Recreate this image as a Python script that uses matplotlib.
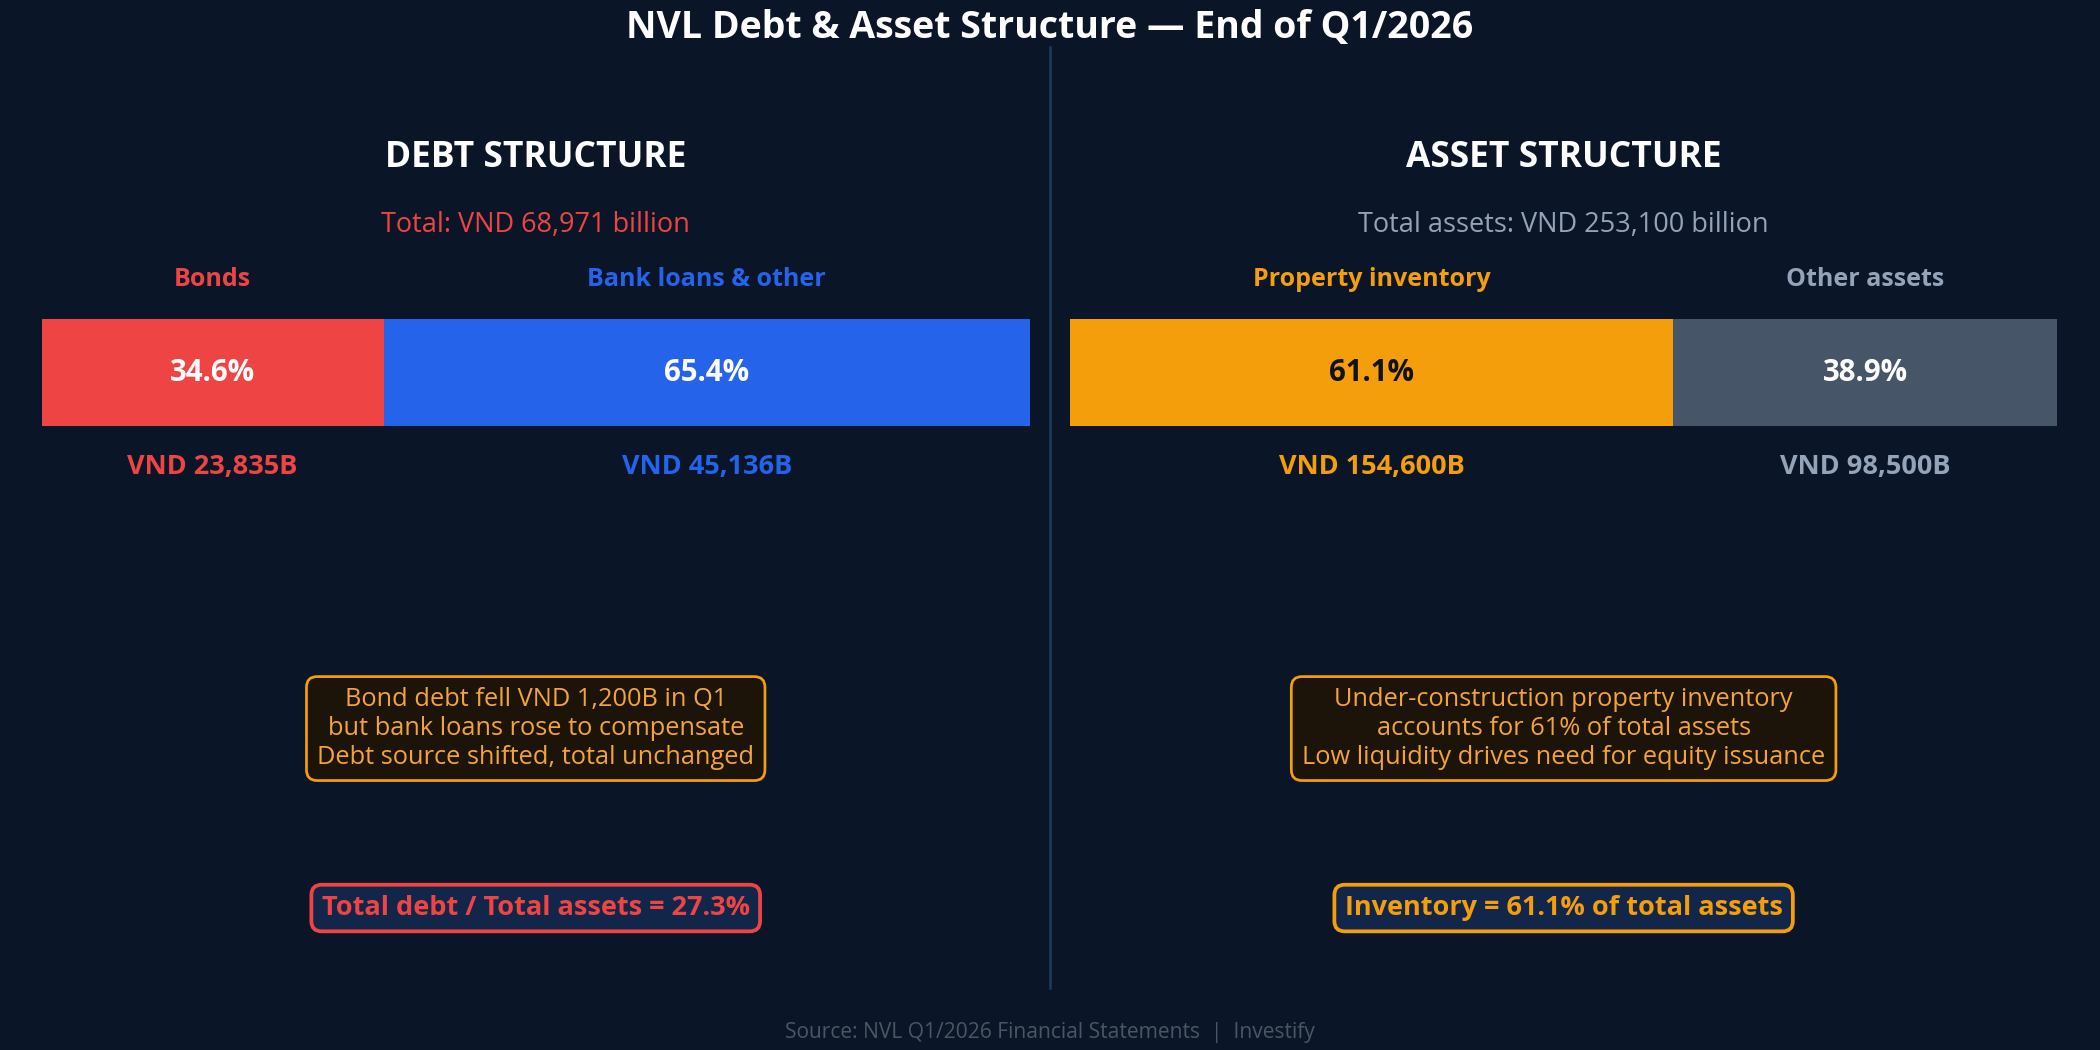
import matplotlib.pyplot as plt
from matplotlib.lines import Line2D

plt.rcParams['font.family'] = ['Open Sans', 'Noto Sans', 'DejaVu Sans']

# --- data ---
debt_labels = ['Bonds', 'Bank loans & other']
debt_pct = [34.6, 65.4]
debt_values = ['VND 23,835B', 'VND 45,136B']
debt_colors = ['#ef4444', '#2563eb']
debt_pct_colors = ['white', 'white']
debt_total = 'Total: VND 68,971 billion'

asset_labels = ['Property inventory', 'Other assets']
asset_pct = [61.1, 38.9]
asset_values = ['VND 154,600B', 'VND 98,500B']
asset_colors = ['#f59e0b', '#475569']
asset_label_colors = ['#f59e0b', '#94a3b8']
asset_pct_colors = ['#111111', 'white']
asset_total = 'Total assets: VND 253,100 billion'

debt_note = ('Bond debt fell VND 1,200B in Q1\n'
             'but bank loans rose to compensate\n'
             'Debt source shifted, total unchanged')
asset_note = ('Under-construction property inventory\n'
              'accounts for 61% of total assets\n'
              'Low liquidity drives need for equity issuance')
debt_ratio = 'Total debt / Total assets = 27.3%'
asset_ratio = 'Inventory = 61.1% of total assets'

BG = '#0a1628'
AMBER_TXT = '#f2a438'


def y(d):
    # display-y (0 at top, 784 at bottom) -> axes fraction
    return 1 - d / 784


def panel(ax, title, total, total_color, labels, label_colors, pcts,
          pct_colors, values, value_colors, colors, note, ratio, ratio_color):
    ax.set_facecolor(BG)
    ax.set_xlim(0, 100)
    ax.set_ylim(0, 1)
    ax.axis('off')

    ax.text(50, y(118), title, ha='center', va='center', color='white',
            fontsize=17, fontweight='bold')
    ax.text(50, y(168), total, ha='center', va='center', color=total_color,
            fontsize=13)

    left = 0
    for lab, lc, p, pc, v, vc, c in zip(labels, label_colors, pcts, pct_colors,
                                        values, value_colors, colors):
        ax.barh(y(278), p, left=left, height=80 / 784, color=c)
        mid = left + p / 2
        ax.text(mid, y(209), lab, ha='center', va='center', color=lc,
                fontsize=12, fontweight='bold')
        ax.text(mid, y(278.5), f'{p:.1f}%', ha='center', va='center', color=pc,
                fontsize=14.2, fontweight='bold')
        ax.text(mid, y(349), v, ha='center', va='center', color=vc,
                fontsize=13, fontweight='bold')
        left += p

    ax.text(50, y(544), note, ha='center', va='center', color=AMBER_TXT,
            fontsize=12.2, linespacing=1.2,
            bbox=dict(boxstyle='round,pad=0.42', facecolor='#1c1408',
                      edgecolor='#f59e0b', linewidth=1.3))
    ax.text(50, y(678), ratio, ha='center', va='center', color=ratio_color,
            fontsize=13, fontweight='bold',
            bbox=dict(boxstyle='round,pad=0.38', facecolor='#12264a',
                      edgecolor=ratio_color, linewidth=1.8))


fig = plt.figure(figsize=(14, 7), dpi=150, facecolor=BG)

ax1 = fig.add_axes([31 / 1568, 0, 738 / 1568, 1])
ax2 = fig.add_axes([799 / 1568, 0, 737 / 1568, 1])

panel(ax1, 'DEBT STRUCTURE', debt_total, '#ef4444', debt_labels, debt_colors,
      debt_pct, debt_pct_colors, debt_values, debt_colors, debt_colors,
      debt_note, debt_ratio, '#ef4444')
panel(ax2, 'ASSET STRUCTURE', asset_total, '#94a3b8', asset_labels,
      asset_label_colors, asset_pct, asset_pct_colors, asset_values,
      asset_label_colors, asset_colors, asset_note, asset_ratio, '#f59e0b')

fig.add_artist(Line2D([0.5, 0.5], [y(35), y(738)], transform=fig.transFigure,
                      color='#1e3a5f', linewidth=1.2))

fig.text(0.5, y(21), 'NVL Debt & Asset Structure — End of Q1/2026',
         ha='center', va='center', color='white', fontsize=18,
         fontweight='bold')
fig.text(0.5, y(771), 'Source: NVL Q1/2026 Financial Statements  |  Investify',
         ha='center', va='center', color='#4b5563', fontsize=10.1)

fig.savefig('out.png', dpi=150, facecolor=BG)
